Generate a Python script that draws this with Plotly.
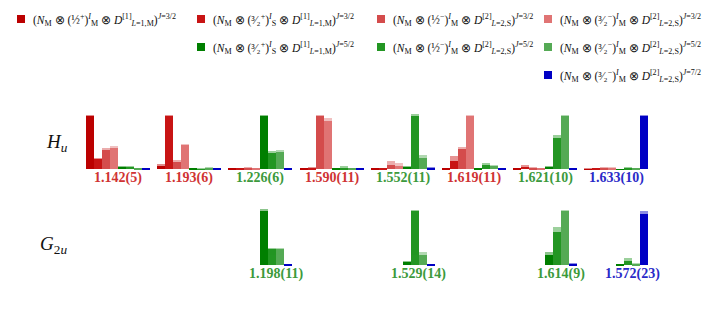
import plotly.graph_objects as go

# ---------------- data ----------------
component_names = [
    "(N_M⊗(1/2+)_M⊗D[1]_{L=1,M})^{J=3/2}",
    "(N_M⊗(3/2+)_S⊗D[1]_{L=1,M})^{J=3/2}",
    "(N_M⊗(1/2-)_M⊗D[2]_{L=2,S})^{J=3/2}",
    "(N_M⊗(3/2-)_M⊗D[2]_{L=2,S})^{J=3/2}",
    "(N_M⊗(3/2+)_S⊗D[1]_{L=1,M})^{J=5/2}",
    "(N_M⊗(1/2-)_M⊗D[2]_{L=2,S})^{J=5/2}",
    "(N_M⊗(3/2-)_M⊗D[2]_{L=2,S})^{J=5/2}",
    "(N_M⊗(3/2-)_M⊗D[2]_{L=2,S})^{J=7/2}",
]

hu_labels = ["1.142(5)", "1.193(6)", "1.226(6)", "1.590(11)",
             "1.552(11)", "1.619(11)", "1.621(10)", "1.633(10)"]
hu_values = [
    [1.00, 0.19, 0.37, 0.41, 0.045, 0.04, 0.010, 0.015],
    [0.06, 1.00, 0.14, 0.45, 0.010, 0.005, 0.020, 0.015],
    [0.012, 0.008, 0.02, 0.01, 1.00, 0.31, 0.32, 0.015],
    [0.012, 0.015, 1.00, 0.92, 0.010, 0.025, 0.010, 0.015],
    [0.010, 0.010, 0.09, 0.07, 0.05, 1.00, 0.22, 0.025],
    [0.010, 0.16, 0.39, 1.00, 0.010, 0.08, 0.06, 0.010],
    [0.010, 0.04, 0.015, 0.010, 0.05, 0.60, 1.00, 0.015],
    [0.005, 0.008, 0.015, 0.015, -0.010, 0.02, 0.010, 1.00],
]
hu_errors = [
    [0.02, 0.03, 0.02, 0.02, 0.01, 0.01, 0.01, 0.005],
    [0.04, 0.02, 0.02, 0.02, 0.01, 0.01, 0.01, 0.005],
    [0.01, 0.01, 0.01, 0.01, 0.02, 0.02, 0.04, 0.005],
    [0.01, 0.01, 0.02, 0.04, 0.01, 0.02, 0.01, 0.005],
    [0.01, 0.01, 0.06, 0.04, 0.01, 0.04, 0.05, 0.005],
    [0.01, 0.10, 0.02, 0.02, 0.01, 0.04, 0.02, 0.005],
    [0.01, 0.04, 0.01, 0.01, 0.01, 0.04, 0.02, 0.005],
    [0.005, 0.01, 0.01, 0.01, 0.01, 0.01, 0.01, 0.02],
]

g2u_labels = ["1.198(11)", "1.529(14)", "1.614(9)", "1.572(23)"]
# G2u only receives the J=5/2 and J=7/2 components (last four)
g2u_values = [
    [1.00, 0.31, 0.30, 0.02],
    [0.055, 1.00, 0.20, 0.02],
    [0.20, 0.62, 1.00, 0.03],
    [0.010, 0.08, 0.02, 0.95],
]
g2u_errors = [
    [0.04, 0.01, 0.01, 0.005],
    [0.01, 0.03, 0.05, 0.005],
    [0.05, 0.10, 0.02, 0.005],
    [0.01, 0.05, 0.01, 0.06],
]

# ---------------- style / layout ----------------
colors = ["#bb0000", "#c81414", "#d44c4c", "#e07474",
          "#007f00", "#239623", "#55aa55", "#0000c4"]
label_colors = {"red": "#d03333", "green": "#3c9a3c", "blue": "#2a2ac8"}
G2U_SLOTS = [2, 4, 6, 7]      # which Hu column each G2u level sits under
STRIDE = 8.9                  # group stride in bar-width units
W, H = 706, 311
X0 = -86 / 8                  # x range so that groups start at px 86
X1 = (W - 86) / 8

def sector_color(vals, offset=0):
    k = max(range(len(vals)), key=lambda i: vals[i]) + offset
    return label_colors["red"] if k < 4 else (label_colors["green"] if k < 7 else label_colors["blue"])

def px_dom(bottom_px, top_px):
    return [1 - bottom_px / H, 1 - top_px / H]

fig = go.Figure()

# Hu bars
for c in range(8):
    xs = [g * STRIDE + c + 0.5 for g in range(len(hu_values))]
    ys = [row[c] for row in hu_values]
    es = [row[c] for row in hu_errors]
    fig.add_trace(go.Bar(x=xs, y=ys, width=1, marker=dict(color=colors[c], line=dict(width=0)),
                         name=component_names[c], showlegend=False, xaxis="x", yaxis="y"))
    fig.add_trace(go.Bar(x=xs, y=es, base=ys, width=1, opacity=0.45,
                         marker=dict(color=colors[c], line=dict(width=0)),
                         showlegend=False, hoverinfo="skip", xaxis="x", yaxis="y"))

# G2u bars
for k in range(4):
    c = 4 + k
    xs = [s * STRIDE + c + 0.5 for s in G2U_SLOTS]
    ys = [row[k] for row in g2u_values]
    es = [row[k] for row in g2u_errors]
    fig.add_trace(go.Bar(x=xs, y=ys, width=1, marker=dict(color=colors[c], line=dict(width=0)),
                         name=component_names[c], showlegend=False, xaxis="x", yaxis="y2"))
    fig.add_trace(go.Bar(x=xs, y=es, base=ys, width=1, opacity=0.45,
                         marker=dict(color=colors[c], line=dict(width=0)),
                         showlegend=False, hoverinfo="skip", xaxis="x", yaxis="y2"))

annotations = []
label_font = "Liberation Serif"
for g, lab in enumerate(hu_labels):
    annotations.append(dict(x=g * STRIDE + 4, y=1 - 178 / H, xref="x", yref="paper",
                            text="<b>%s</b>" % lab, showarrow=False, xanchor="center", yanchor="middle",
                            font=dict(family=label_font, size=14, color=sector_color(hu_values[g]))))
for i, lab in enumerate(g2u_labels):
    annotations.append(dict(x=G2U_SLOTS[i] * STRIDE + 6, y=1 - 274 / H, xref="x", yref="paper",
                            text="<b>%s</b>" % lab, showarrow=False, xanchor="center", yanchor="middle",
                            font=dict(family=label_font, size=14, color=sector_color(g2u_values[i], 4))))

# row labels
annotations.append(dict(x=44 / W, y=1 - 143 / H, xref="paper", yref="paper", showarrow=False,
                        xanchor="left", yanchor="middle",
                        text="<i>H</i><sub><i>u</i></sub>", font=dict(family=label_font, size=19, color="#111")))
annotations.append(dict(x=38 / W, y=1 - 245 / H, xref="paper", yref="paper", showarrow=False,
                        xanchor="left", yanchor="middle",
                        text="<i>G</i><sub>2<i>u</i></sub>", font=dict(family=label_font, size=19, color="#111")))

# legend (built from annotations + squares)
def leg_text(frac, sgn, lab, D, LL, J):
    return ("(<i>N</i><sub>M</sub> ⊗ (%s<sup>%s</sup>)<sup><i>I</i></sup><sub>%s</sub> ⊗ "
            "<i>D</i><sup>[%s]</sup><sub><i>L</i>=%s</sub>)<sup><i>J</i>=%s</sup>") % (frac, sgn, lab, D, LL, J)

legend_items = [
    (0, 17, 19, leg_text("½", "+", "M", "1", "1,M", "3/2")),
    (1, 197, 19, leg_text("³⁄₂", "+", "S", "1", "1,M", "3/2")),
    (4, 197, 47, leg_text("³⁄₂", "+", "S", "1", "1,M", "5/2")),
    (2, 377, 19, leg_text("½", "−", "M", "2", "2,S", "3/2")),
    (5, 377, 47, leg_text("½", "−", "M", "2", "2,S", "5/2")),
    (3, 544, 19, leg_text("³⁄₂", "−", "M", "2", "2,S", "3/2")),
    (6, 544, 47, leg_text("³⁄₂", "−", "M", "2", "2,S", "5/2")),
    (7, 544, 75, leg_text("³⁄₂", "−", "M", "2", "2,S", "7/2")),
]
shapes = []
for c, mx, my, txt in legend_items:
    shapes.append(dict(type="rect", xref="paper", yref="paper",
                       x0=mx / W, x1=(mx + 8) / W, y0=1 - (my + 4) / H, y1=1 - (my - 4) / H,
                       fillcolor=colors[c], line=dict(width=0)))
    annotations.append(dict(x=(mx + 14) / W, y=1 - (my + 1) / H, xref="paper", yref="paper",
                            text=txt, showarrow=False, xanchor="left", yanchor="middle",
                            font=dict(family=label_font, size=11.5, color="#111")))

fig.update_layout(
    width=W, height=H, margin=dict(l=0, r=0, t=0, b=0),
    paper_bgcolor="white", plot_bgcolor="white",
    barmode="overlay", bargap=0,
    xaxis=dict(range=[X0, X1], visible=False, domain=[0, 1]),
    yaxis=dict(range=[-0.1, 1.1], visible=False, domain=px_dom(174.3, 110.7), anchor="x"),
    yaxis2=dict(range=[-0.1, 1.1], visible=False, domain=px_dom(270.4, 205.6), anchor="x"),
    annotations=annotations, shapes=shapes, showlegend=False,
)

fig.write_html("out.html", config={"displayModeBar": False},
               post_script="document.body.style.margin='0';document.body.style.overflow='hidden';")
